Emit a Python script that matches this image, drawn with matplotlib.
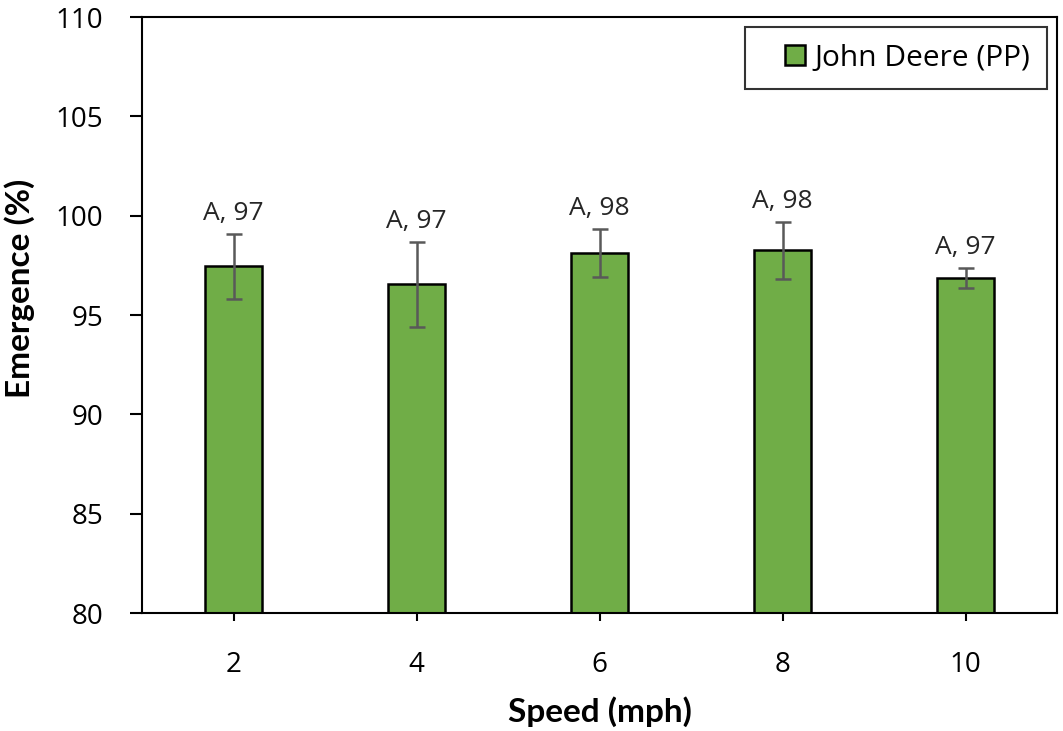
import numpy as np
import matplotlib.pyplot as plt
from matplotlib.patches import Rectangle
from matplotlib.legend_handler import HandlerPatch

# data
speeds = ['2', '4', '6', '8', '10']
emergence = [97.45, 96.55, 98.12, 98.26, 96.86]
err = [1.65, 2.15, 1.23, 1.43, 0.51]
labels = ['A, 97', 'A, 97', 'A, 98', 'A, 98', 'A, 97']
series_name = 'John Deere (PP)'


class SquareRight(HandlerPatch):
    # small square pushed to the right end of the handle box (Excel style)
    def create_artists(self, legend, orig_handle, xdescent, ydescent,
                       width, height, fontsize, trans):
        s = height
        p = Rectangle((width - s - xdescent, -ydescent), s, s)
        self.update_prop(p, orig_handle, legend)
        p.set_transform(trans)
        return [p]


plt.rcParams['font.family'] = ['Open Sans', 'DejaVu Sans']

fig = plt.figure(figsize=(10.63, 7.31), dpi=100)
ax = fig.add_axes([0.1336, 0.1614, 0.8608, 0.8153])

x = np.arange(len(speeds))
bars = ax.bar(x, emergence, width=0.31, color='#70AD47', edgecolor='black',
              linewidth=1.8, label=series_name, zorder=2)
ax.errorbar(x, emergence, yerr=err, fmt='none', ecolor='#595959',
            elinewidth=1.8, capsize=6, capthick=1.8, zorder=3)

for xi, yi, e, lab in zip(x, emergence, err, labels):
    ax.annotate(lab, (xi, yi + e), xytext=(0, 10), textcoords='offset points',
                ha='center', va='baseline', fontsize=19, color='#262626')

ax.set_xlim(-0.5, 4.5)
ax.set_ylim(80, 110)
ax.set_yticks(np.arange(80, 111, 5))
ax.set_xticks(x)
ax.set_xticklabels(speeds)
ax.tick_params(axis='both', labelsize=20, width=1.5, direction='out', colors='black')
ax.tick_params(axis='y', length=9, pad=19)
ax.tick_params(axis='x', length=6, pad=21)
for s in ax.spines.values():
    s.set_linewidth(1.5)

ax.set_xlabel('Speed (mph)', fontsize=24, fontweight='bold',
              family=['Lato', 'DejaVu Sans'], labelpad=13)
ax.set_ylabel('Emergence (%)', fontsize=24, fontweight='bold',
              family=['Lato', 'DejaVu Sans'])
ax.yaxis.set_label_coords(-0.117, 0.544)

leg = ax.legend([bars.patches[0]], [series_name], loc='upper right', fontsize=21.5,
                frameon=True, fancybox=False, edgecolor='black',
                handlelength=1.45, handleheight=0.62, handletextpad=0.33,
                borderpad=0.55, borderaxespad=0, bbox_to_anchor=(0.989, 0.983),
                handler_map={Rectangle: SquareRight()})
leg.get_frame().set_linewidth(1.5)

fig.savefig('out.png', dpi=100)
